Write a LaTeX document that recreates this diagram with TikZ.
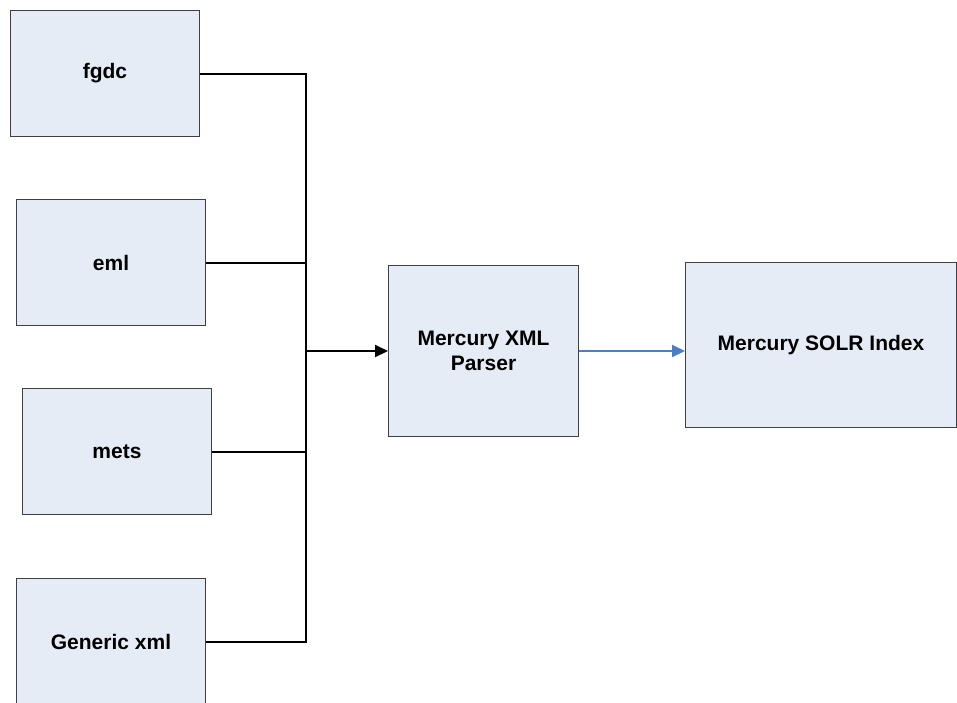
\documentclass[tikz,border=0pt]{standalone}
\usepackage{fontspec}
\setmainfont{Liberation Sans}
\usetikzlibrary{arrows.meta}
\definecolor{boxfill}{HTML}{E6ECF6}
\definecolor{boxline}{HTML}{404040}
\definecolor{flowblue}{HTML}{4A7EC6}
\tikzset{
  srcbox/.style={draw=boxline, line width=1pt, fill=boxfill, anchor=north west, inner sep=0pt,
    align=center, font=\fontsize{21}{25}\selectfont\bfseries},
  busline/.style={line width=2pt, black},
}
\begin{document}
\begin{tikzpicture}[x=1pt,y=-1pt]
\fill[white] (0,0) rectangle (957,702);
\useasboundingbox (0,0) rectangle (957,702);
\begin{scope}
\clip (0,0) rectangle (957,702);
\node[srcbox, minimum width=189pt, minimum height=126pt] (fgdc) at (10,10) {fgdc};
\node[srcbox, minimum width=189pt, minimum height=126pt] (eml) at (16,199) {eml};
\node[srcbox, minimum width=189pt, minimum height=126pt] (mets) at (22,388) {mets};
\node[srcbox, minimum width=189pt, minimum height=126pt] (gen) at (16,578) {Generic xml};
\node[srcbox, minimum width=190pt, minimum height=171pt] (parser) at (388,265) {Mercury XML\\Parser};
\node[srcbox, minimum width=271pt, minimum height=165pt] (solr) at (685,262) {Mercury SOLR Index};
\coordinate (bm) at (306,351);
\draw[busline] (fgdc.east) -- (fgdc.east -| bm) -- (gen.east -| bm) -- (gen.east);
\draw[busline] (eml.east) -- (eml.east -| bm);
\draw[busline] (mets.east) -- (mets.east -| bm);
\draw[busline, -{Triangle[length=13pt,width=12pt]}] (bm) -- (bm -| parser.west);
\draw[line width=2pt, flowblue, -{Triangle[length=13pt,width=12pt]}] (bm -| parser.east) -- (bm -| solr.west);
\end{scope}
\end{tikzpicture}
\end{document}
